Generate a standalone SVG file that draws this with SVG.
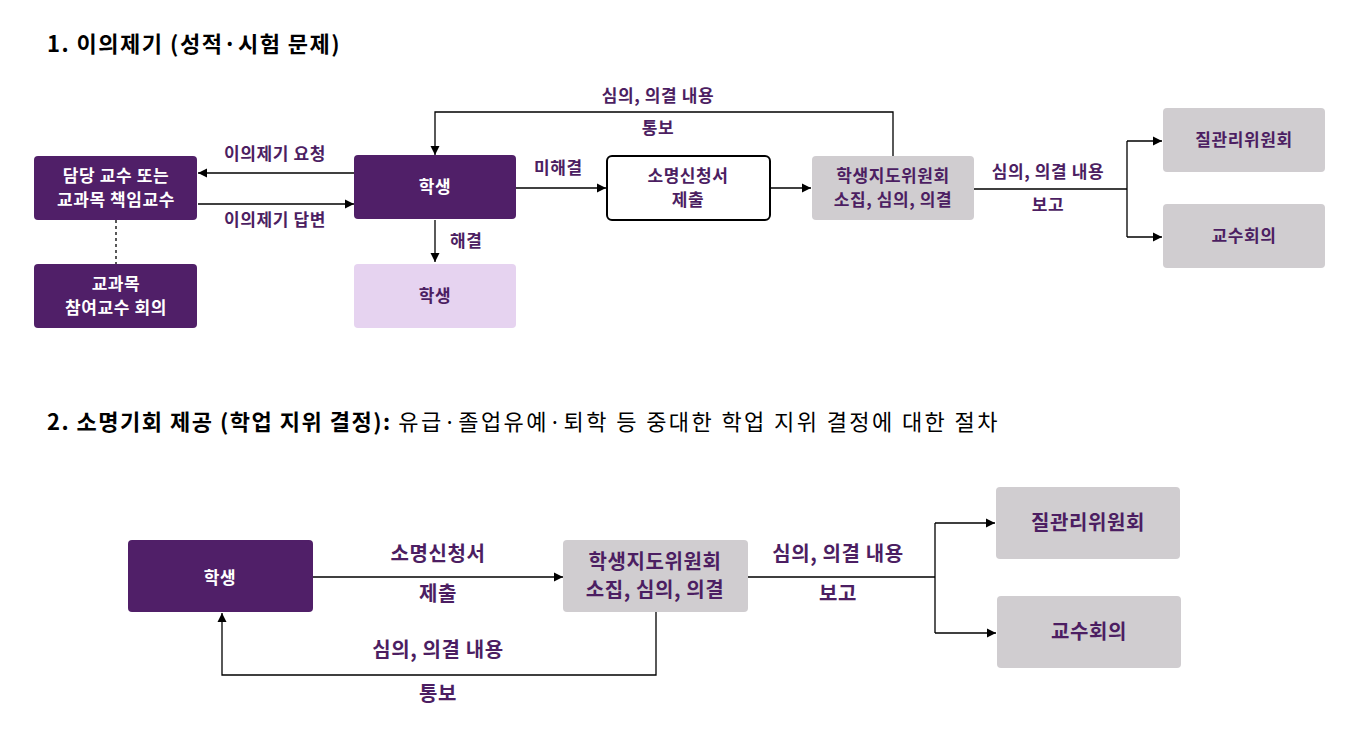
<svg xmlns="http://www.w3.org/2000/svg" width="1369" height="739" viewBox="0 0 1369 739">
<style>
text{font-family:"Noto Sans CJK KR","Noto Sans",sans-serif;font-weight:bold;letter-spacing:0.6px}
.w{fill:#fff;font-size:17px}
.p{fill:#4c1e62;font-size:17px}
.pl{fill:#4c1e62;font-size:20px}
.dk{fill:#501f68}
.gr{fill:#d0cdd0}
.ln{fill:none;stroke:#000;stroke-width:1.3}
.h{fill:#000;font-size:22px;letter-spacing:1.5px}
</style>
<defs><marker id="a" viewBox="0 0 10 10" refX="10" refY="5" markerWidth="7" markerHeight="7" orient="auto"><path d="M0,0L10,5L0,10z" fill="#000"/></marker></defs>
<rect width="1369" height="739" fill="#fff"/>
<text x="47" y="52" class="h">1. 이의제기 (성적·시험 문제)</text>
<text x="47" y="430" class="h">2. 소명기회 제공 (학업 지위 결정): <tspan font-weight="normal" letter-spacing="2.4">유급·졸업유예·퇴학 등 중대한 학업 지위 결정에 대한 절차</tspan></text>
<g id="connectors">
<path class="ln" d="M354,173H198" marker-end="url(#a)"/>
<path class="ln" d="M198,204H354" marker-end="url(#a)"/>
<path class="ln" d="M116,220V264" stroke-dasharray="3,3"/>
<path class="ln" d="M435,220V262" marker-end="url(#a)"/>
<path class="ln" d="M516,188H606" marker-end="url(#a)"/>
<path class="ln" d="M770,188H811" marker-end="url(#a)"/>
<path class="ln" d="M893,156V112H435V155" marker-end="url(#a)"/>
<path class="ln" d="M974,189H1127M1127,141V237M1127,141H1162" marker-end="url(#a)"/>
<path class="ln" d="M1127,237H1162" marker-end="url(#a)"/>
<path class="ln" d="M313,577H563" marker-end="url(#a)"/>
<path class="ln" d="M656,612V675H222V613" marker-end="url(#a)"/>
<path class="ln" d="M748,577H935M935,523V633M935,523H995" marker-end="url(#a)"/>
<path class="ln" d="M935,633H996" marker-end="url(#a)"/>
</g>
<g class="p">
<text x="275" y="160" text-anchor="middle">이의제기 요청</text>
<text x="275" y="226" text-anchor="middle">이의제기 답변</text>
<text x="450" y="247">해결</text>
<text x="534" y="174">미해결</text>
<text x="658" y="102" text-anchor="middle">심의, 의결 내용</text>
<text x="658" y="134" text-anchor="middle">통보</text>
<text x="1048" y="178" text-anchor="middle">심의, 의결 내용</text>
<text x="1048" y="211" text-anchor="middle">보고</text>
</g>
<g class="pl">
<text x="438" y="561" text-anchor="middle">소명신청서</text>
<text x="438" y="601" text-anchor="middle">제출</text>
<text x="438" y="657" text-anchor="middle">심의, 의결 내용</text>
<text x="438" y="701" text-anchor="middle">통보</text>
<text x="838" y="561" text-anchor="middle">심의, 의결 내용</text>
<text x="838" y="601" text-anchor="middle">보고</text>
</g>
<g id="n1"><rect x="34" y="156" width="163" height="64" rx="4" class="dk"/><text x="116" y="182" class="w" text-anchor="middle">담당 교수 또는</text><text x="116" y="206" class="w" text-anchor="middle">교과목 책임교수</text></g>
<g id="n2"><rect x="34" y="264" width="163" height="64" rx="4" class="dk"/><text x="116" y="290" class="w" text-anchor="middle">교과목</text><text x="116" y="314" class="w" text-anchor="middle">참여교수 회의</text></g>
<g id="n3"><rect x="354" y="155" width="162" height="64" rx="4" class="dk"/><text x="435" y="193" class="w" text-anchor="middle">학생</text></g>
<g id="n4"><rect x="354" y="264" width="162" height="64" rx="4" fill="#e6d3f0"/><text x="435" y="302" class="p" text-anchor="middle">학생</text></g>
<g id="n5"><rect x="607" y="156" width="163" height="64" rx="5" fill="#fff" stroke="#000" stroke-width="2"/><text x="688" y="182" fill="#4c1e62" font-size="17" text-anchor="middle">소명신청서</text><text x="688" y="206" fill="#4c1e62" font-size="17" text-anchor="middle">제출</text></g>
<g id="n6"><rect x="812" y="156" width="162" height="64" rx="4" class="gr"/><text x="893" y="182" class="p" text-anchor="middle">학생지도위원회</text><text x="893" y="206" class="p" text-anchor="middle">소집, 심의, 의결</text></g>
<g id="n7"><rect x="1163" y="108" width="162" height="64" rx="4" class="gr"/><text x="1244" y="146" class="p" text-anchor="middle">질관리위원회</text></g>
<g id="n8"><rect x="1163" y="204" width="162" height="64" rx="4" class="gr"/><text x="1244" y="242" class="p" text-anchor="middle">교수회의</text></g>
<g id="m1"><rect x="128" y="540" width="185" height="72" rx="4" class="dk"/><text x="220" y="584" class="w" font-size="20" text-anchor="middle">학생</text></g>
<g id="m2"><rect x="563" y="540" width="185" height="72" rx="4" class="gr"/><text x="655" y="569" class="pl" text-anchor="middle">학생지도위원회</text><text x="655" y="597" class="pl" text-anchor="middle">소집, 심의, 의결</text></g>
<g id="m3"><rect x="996" y="487" width="184" height="72" rx="4" class="gr"/><text x="1088" y="530" class="pl" text-anchor="middle">질관리위원회</text></g>
<g id="m4"><rect x="997" y="596" width="184" height="72" rx="4" class="gr"/><text x="1089" y="639" class="pl" text-anchor="middle">교수회의</text></g>
</svg>
